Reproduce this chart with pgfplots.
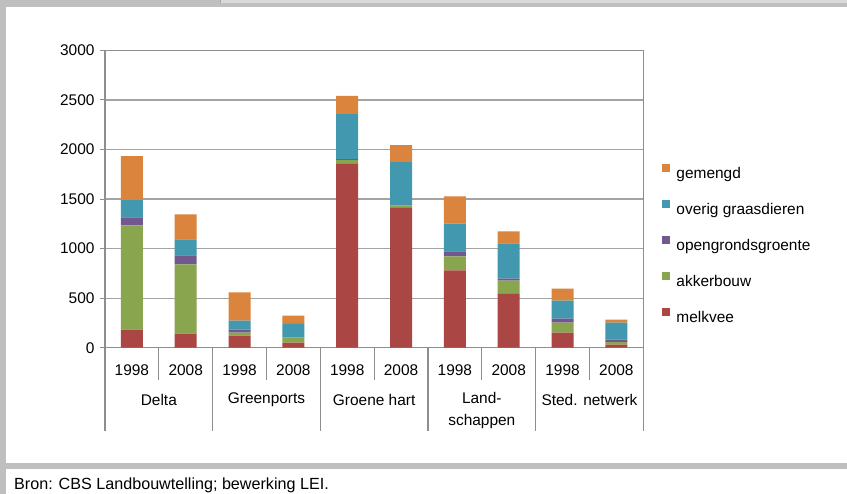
\documentclass[border=0pt]{standalone}
\usepackage{fontspec}
\setmainfont{Liberation Sans}
\usepackage{pgfplots}
\usepackage{pgfplotstable}
\pgfplotsset{compat=1.18}
\definecolor{cmelk}{HTML}{AA4643}
\definecolor{cakker}{HTML}{89A54E}
\definecolor{copen}{HTML}{71588F}
\definecolor{coverig}{HTML}{4198AF}
\definecolor{cgem}{HTML}{DB843D}
\definecolor{framec}{HTML}{BFBFBF}
\definecolor{lightc}{HTML}{DADADA}
\definecolor{gridc}{HTML}{A3A3A3}
\definecolor{axc}{HTML}{8E8E8E}
\newcommand{\lblfont}{\fontsize{15.5}{18}\selectfont}
\pgfplotsset{sqlegend/.style={legend image code/.code={\fill[##1] (0bp,2.5bp) rectangle (8.5bp,11bp);}}}

\pgfplotstableread{
x melk akker open overig gem
0 182 1053 81 172 445
1 142 698 91 162 253
2 121 31 30 91 284
3 51 50 3 137 83
4 1859 34 10 455 182
5 1417 20 3 432 173
6 779 142 51 280 276
7 547 131 20 355 121
8 152 101 41 182 121
9 30 27 24 172 30
}\data

\begin{document}
\begin{tikzpicture}[x=1bp,y=1bp]
\useasboundingbox (0,0) rectangle (847,494);
\fill[white] (0,0) rectangle (847,494);
% frame
\fill[framec] (0,486.7) rectangle (847,494);
\fill[lightc] (220,491) rectangle (847,494);
\draw[gray!70, line width=0.6bp] (220,491) -- (220,494);
\fill[framec] (0,0) rectangle (6,494);
\fill[framec] (0,24.5) rectangle (847,31);
\node[anchor=base west, font=\fontsize{16.2}{19}\selectfont, inner sep=0pt] at (14,4.5) {Bron: CBS Landbouwtelling; bewerking LEI.};

\begin{axis}[
  at={(105bp,146.3bp)}, anchor=south west,
  scale only axis, width=538.3bp, height=297.3bp,
  ymin=0, ymax=3000, xmin=-0.5, xmax=9.5,
  ybar stacked, bar width=22bp,
  ytick={0,500,...,3000},
  ymajorgrids, grid style={gridc, line width=1.2bp},
  axis line style={axc, line width=1.4bp},
  ytick pos=left, tick align=outside, major tick length=5bp,
  ytick style={axc, line width=1bp},
  xtick={0,...,9},
  xticklabels={1998,2008,1998,2008,1998,2008,1998,2008,1998,2008},
  xtick style={draw=none},
  xtick pos=bottom,
  xticklabel style={anchor=center, yshift=-17.5bp},
  yticklabel style={anchor=east, xshift=-2bp},
  every tick label/.append style={font=\lblfont, text=black},
  /pgf/number format/assume math mode=true,
  /pgf/number format/1000 sep={},
  clip=false,
  reverse legend,
  legend cell align=left,
  legend style={at={(1.0347,0.618)}, anchor=north west, draw=none, fill=none,
    inner sep=0pt, outer sep=0pt, row sep=18bp, column sep=6bp,
    nodes={inner sep=0pt, text height=11bp, text depth=3bp, font=\lblfont}},
]
\addplot[fill=cmelk, draw=none, sqlegend] table[x=x,y=melk]{\data};
\addplot[fill=cakker, draw=none, sqlegend] table[x=x,y=akker]{\data};
\addplot[fill=copen, draw=none, sqlegend] table[x=x,y=open]{\data};
\addplot[fill=coverig, draw=none, sqlegend] table[x=x,y=overig]{\data};
\addplot[fill=cgem, draw=none, sqlegend] table[x=x,y=gem]{\data};
\legend{melkvee, akkerbouw, opengrondsgroente, overig graasdieren, gemengd}

\pgfplotsinvokeforeach{0.5,2.5,4.5,6.5,8.5}{
  \draw[axc, line width=1.2bp] (axis cs:#1,0) -- ++(0bp,-32bp);
}
\pgfplotsinvokeforeach{-0.5,1.5,3.5,5.5,7.5,9.5}{
  \draw[axc, line width=1.2bp] (axis cs:#1,0) -- ++(0bp,-83bp);
}
\node[font=\lblfont, yshift=-52bp] at (axis cs:0.5,0) {Delta};
\node[font=\lblfont, yshift=-52bp] at (axis cs:2.5,0) {Greenports};
\node[font=\lblfont, yshift=-52bp] at (axis cs:4.5,0) {Groene hart};
\node[font=\fontsize{15.5}{22}\selectfont, align=center, yshift=-63bp] at (axis cs:6.5,0) {Land-\\schappen};
\node[font=\lblfont, yshift=-52bp] at (axis cs:8.5,0) {Sted. netwerk};
\end{axis}
\end{tikzpicture}
\end{document}
